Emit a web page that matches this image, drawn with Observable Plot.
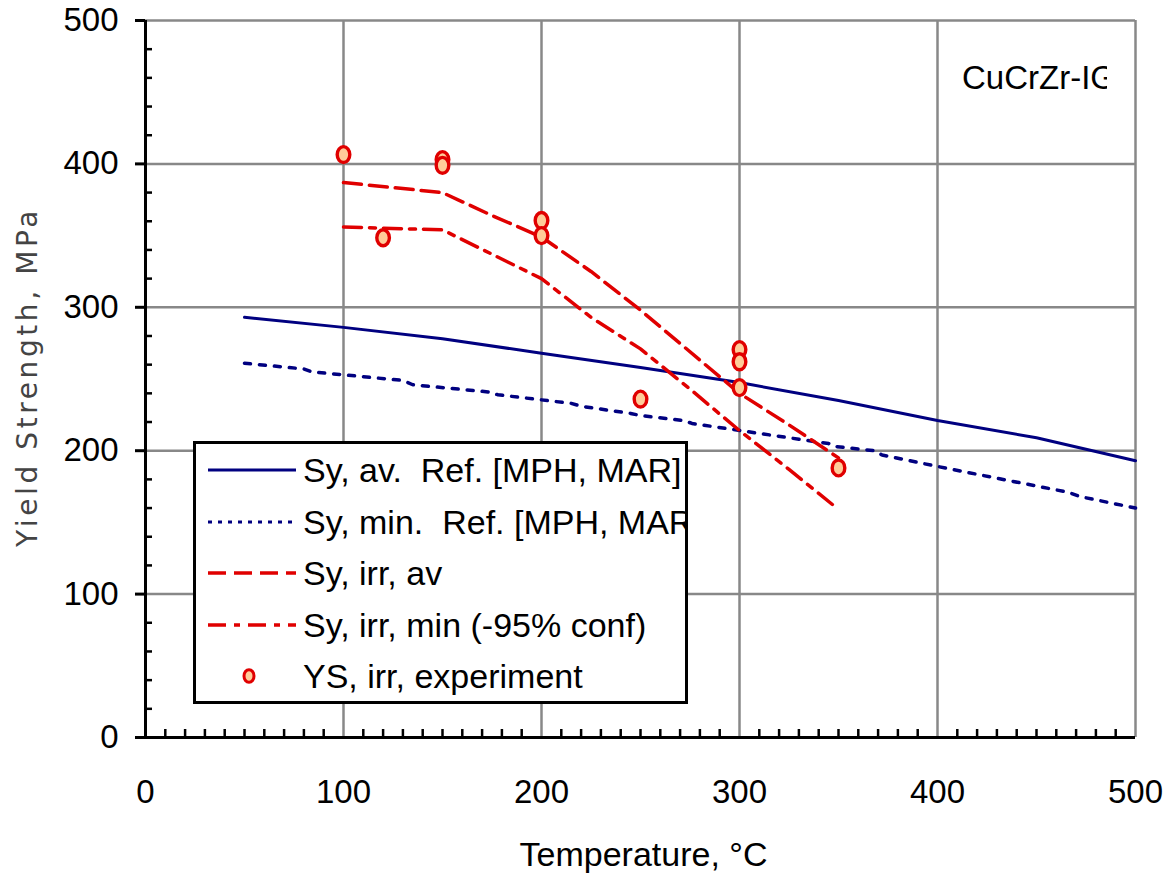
<!DOCTYPE html>
<html><head><meta charset="utf-8">
<script src="https://cdn.jsdelivr.net/npm/d3@7"></script>
<script src="https://cdn.jsdelivr.net/npm/@observablehq/plot@0.6"></script>
<style>
body{margin:0;background:#fff}
#wrap{position:relative;width:1165px;height:873px;font-family:"Liberation Sans",Arial,sans-serif;background:#fff}
#wrap svg{display:block}
</style>
</head><body><div id="wrap"></div>
<script>
// ---- data ----
const avTemp = [50,100,150,200,250,300,350,400,450,500];
const avYS   = [293,286,278,268,258,247.5,235,221,209,193];

const minTemp = [50,80,84,130,135,173,178,215,220,245,250,272,276,330,345,348,368,372,400,466,472,500];
const minYS   = [261,257,255,249,246,241,239,233,231,226,224.5,221,219,208,205,203,200,197,189,171,168,160];

const irrAvTemp = [100,150,175,200,225,250,300,325,350];
const irrAvYS   = [387,380,364,349,325,298,240,218,195];

const irrMinTemp = [100,150,175,200,225,250,275,300,325,350];
const irrMinYS   = [356,354,337,320,293,271,243,214,187,159];

const expTemp = [100,150,150,120,200,200,250,300,300,300,350];
const expYS   = [406.5,403,399,348.5,360.5,350,236,270.5,262,244,188];

const xMajor = [0,100,200,300,400,500];
const yMajor = [0,100,200,300,400,500];
const gridTicks = [100,200,300,400,500];
const xMinor = d3.range(10,500,10).filter(v => v % 100 !== 0);
const yMinor = d3.range(20,500,20).filter(v => v % 100 !== 0);

const legendItems = [
  "Sy, av.  Ref. [MPH, MAR]",
  "Sy, min.  Ref. [MPH, MAR]",
  "Sy, irr, av",
  "Sy, irr, min (-95% conf)",
  "YS, irr, experiment"
];
const xLabel = "Temperature, °C";
const yLabel = "Yield Strength, MPa";
const tagLabel = "CuCrZr-IG";

const navy = "#000080", red = "#E00000", dotFill = "#FFCC99";
const zip = (t, s) => t.map((v, i) => ({T: v, S: s[i]}));

// slightly tall ellipse marker, as in the original
const ellipseSymbol = {
  draw(context, size) {
    const r = Math.sqrt(size / Math.PI);
    const rx = 0.83 * r, ry = 1.05 * r, k = 0.5523;
    context.moveTo(rx, 0);
    context.bezierCurveTo(rx, k * ry, k * rx, ry, 0, ry);
    context.bezierCurveTo(-k * rx, ry, -rx, k * ry, -rx, 0);
    context.bezierCurveTo(-rx, -k * ry, -k * rx, -ry, 0, -ry);
    context.bezierCurveTo(k * rx, -ry, rx, -k * ry, rx, 0);
    context.closePath();
  }
};

const chart = Plot.plot({
  width: 1165, height: 873,
  marginLeft: 145, marginRight: 30, marginTop: 20, marginBottom: 136,
  style: {fontFamily: '"Liberation Sans", Arial, sans-serif', fontSize: "33px", color: "#000", background: "#fff", overflow: "visible"},
  x: {domain: [0, 500]},
  y: {domain: [0, 500]},
  marks: [
    Plot.gridX(gridTicks, {stroke: "#888", strokeOpacity: 1, strokeWidth: 2.5}),
    Plot.gridY(gridTicks, {stroke: "#888", strokeOpacity: 1, strokeWidth: 2.5}),
    Plot.line(zip(avTemp, avYS), {x: "T", y: "S", stroke: navy, strokeWidth: 3}),
    Plot.line(zip(minTemp, minYS), {x: "T", y: "S", stroke: navy, strokeWidth: 3.5, strokeDasharray: "6,9"}),
    Plot.line(zip(irrAvTemp, irrAvYS), {x: "T", y: "S", stroke: red, strokeWidth: 3.5, strokeDasharray: "18,8"}),
    Plot.line(zip(irrMinTemp, irrMinYS), {x: "T", y: "S", stroke: red, strokeWidth: 3.5, strokeDasharray: "18,8,6,8"}),
    Plot.dot(zip(expTemp, expYS), {x: "T", y: "S", r: 7.6, symbol: ellipseSymbol, fill: dotFill, stroke: red, strokeWidth: 3.4}),
    Plot.ruleX([0], {stroke: "#000", strokeWidth: 3}),
    Plot.ruleY([0], {stroke: "#000", strokeWidth: 3}),
    Plot.axisY(yMajor, {anchor: "left", tickSize: 10, tickPadding: 17, strokeWidth: 3, fontSize: 33, label: null}),
    Plot.axisY(yMinor, {anchor: "left", tickSize: -7, strokeWidth: 2.5, text: null, label: null}),
    Plot.axisX(xMajor, {anchor: "bottom", tickSize: 0, tickPadding: 42, fontSize: 33, label: null}),
    Plot.axisX(xMinor, {anchor: "bottom", tickSize: -8, strokeWidth: 2.5, text: null, label: null}),
    Plot.text([xLabel], {text: d => d, frameAnchor: "bottom", dx: 3, dy: 118, textAnchor: "middle", lineAnchor: "middle", fontSize: 34, fill: "#000"}),
    Plot.text([yLabel], {text: d => d, frameAnchor: "left", dx: -117, dy: -2, rotate: -90, textAnchor: "middle", lineAnchor: "middle", fontSize: 28, fill: "#444", fontFamily: '"DejaVu Sans", Verdana, sans-serif'})
  ]
});
const wrap = document.getElementById("wrap");
wrap.appendChild(chart);
d3.select(chart).selectAll("text").filter(function(){ return this.textContent === yLabel; })
  .attr("letter-spacing", "3.6px");

// ---- legend (inside plot area) ----
const lg = d3.select(wrap).append("svg")
  .attr("width", 495).attr("height", 263)
  .style("position", "absolute").style("left", "193px").style("top", "441px")
  .style("overflow", "hidden");
lg.append("rect").attr("x", 0).attr("y", 0).attr("width", 495).attr("height", 263).attr("fill", "#fff");
const rowY = [29, 81, 132, 184, 235];
const styles = [
  {stroke: navy, dash: null, w: 3},
  {stroke: navy, dash: "4,6", w: 3},
  {stroke: red, dash: "18,8", w: 3.5},
  {stroke: red, dash: "18,8,6,8", w: 3.5}
];
styles.forEach((s, i) => {
  lg.append("line").attr("x1", 15).attr("x2", 103).attr("y1", rowY[i]).attr("y2", rowY[i])
    .attr("stroke", s.stroke).attr("stroke-width", s.w).attr("stroke-dasharray", s.dash);
});
lg.append("ellipse").attr("cx", 56).attr("cy", rowY[4]).attr("rx", 5).attr("ry", 6.3)
  .attr("fill", dotFill).attr("stroke", red).attr("stroke-width", 3);
legendItems.forEach((t, i) => {
  lg.append("text").attr("x", 110).attr("y", rowY[i] + 12)
    .attr("font-family", '"Liberation Sans", Arial, sans-serif').attr("font-size", 34)
    .style("white-space", "pre")
    .attr("fill", "#000").text(t);
});
lg.append("rect").attr("x", 1.5).attr("y", 1.5).attr("width", 492).attr("height", 260)
  .attr("fill", "none").attr("stroke", "#000").attr("stroke-width", 3);

// ---- material tag (clipped as in the original) ----
const tg = d3.select(wrap).append("svg")
  .attr("width", 207).attr("height", 80)
  .style("position", "absolute").style("left", "900px").style("top", "40px")
  .style("overflow", "hidden");
tg.append("text").attr("x", 62).attr("y", 49)
  .attr("font-family", '"Liberation Sans", Arial, sans-serif').attr("font-size", 33)
  .attr("fill", "#000").text(tagLabel);
</script>
</body></html>
